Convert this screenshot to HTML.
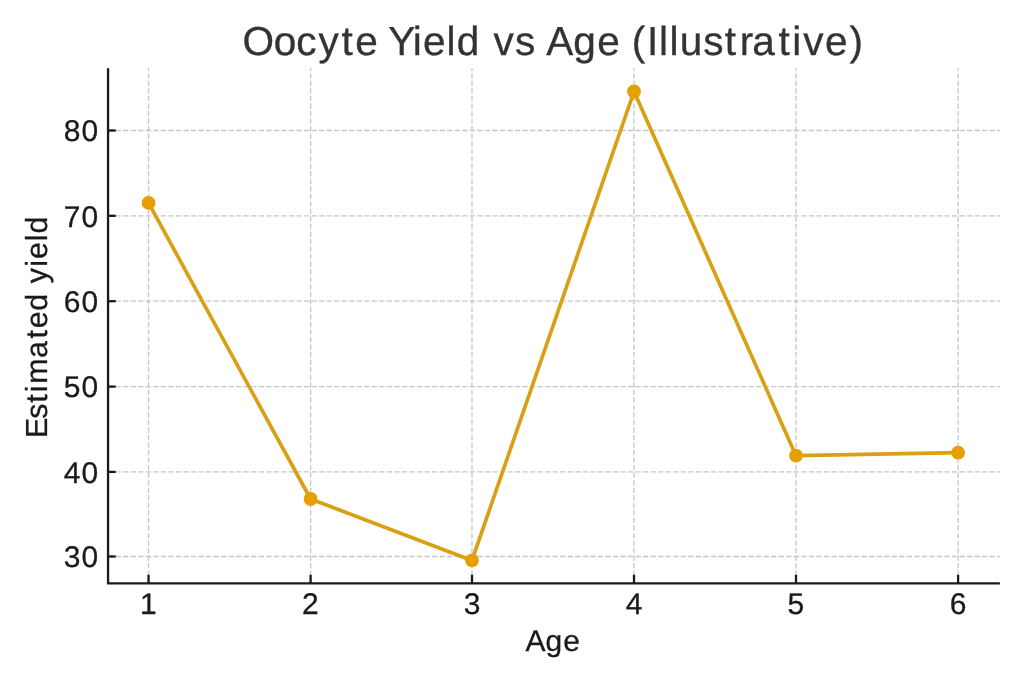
<!DOCTYPE html>
<html><head><meta charset="utf-8"><title>Oocyte Yield vs Age</title>
<style>
html,body{margin:0;padding:0;background:#fff;}
body{width:1024px;height:683px;overflow:hidden;}
svg{display:block;will-change:transform;font-family:"Liberation Sans",sans-serif;text-rendering:geometricPrecision;}
</style></head><body>
<svg width="1024" height="683" viewBox="0 0 1024 683">
<rect width="1024" height="683" fill="#fff"/>
<g stroke="#c6c6c6" stroke-width="1.3" stroke-dasharray="5.26 2.275" fill="none">
<line x1="108.05" y1="556.50" x2="999.9" y2="556.50"/>
<line x1="108.05" y1="471.90" x2="999.9" y2="471.90"/>
<line x1="108.05" y1="386.60" x2="999.9" y2="386.60"/>
<line x1="108.05" y1="301.20" x2="999.9" y2="301.20"/>
<line x1="108.05" y1="215.80" x2="999.9" y2="215.80"/>
<line x1="108.05" y1="130.50" x2="999.9" y2="130.50"/>
<line x1="148.55" y1="583.35" x2="148.55" y2="68.2"/>
<line x1="310.60" y1="583.35" x2="310.60" y2="68.2"/>
<line x1="472.00" y1="583.35" x2="472.00" y2="68.2"/>
<line x1="634.00" y1="583.35" x2="634.00" y2="68.2"/>
<line x1="796.00" y1="583.35" x2="796.00" y2="68.2"/>
<line x1="958.10" y1="583.35" x2="958.10" y2="68.2"/>
</g>
<g stroke="#1a1a1a" stroke-width="2.3" fill="none">
<line x1="108.05" y1="556.50" x2="115.75" y2="556.50"/>
<line x1="108.05" y1="471.90" x2="115.75" y2="471.90"/>
<line x1="108.05" y1="386.60" x2="115.75" y2="386.60"/>
<line x1="108.05" y1="301.20" x2="115.75" y2="301.20"/>
<line x1="108.05" y1="215.80" x2="115.75" y2="215.80"/>
<line x1="108.05" y1="130.50" x2="115.75" y2="130.50"/>
<line x1="148.55" y1="583.35" x2="148.55" y2="574.75"/>
<line x1="310.60" y1="583.35" x2="310.60" y2="574.75"/>
<line x1="472.00" y1="583.35" x2="472.00" y2="574.75"/>
<line x1="634.00" y1="583.35" x2="634.00" y2="574.75"/>
<line x1="796.00" y1="583.35" x2="796.00" y2="574.75"/>
<line x1="958.10" y1="583.35" x2="958.10" y2="574.75"/>
<path d="M108.05 68.2 V584.35 M107.05 583.35 H999.9"/>
</g>
<polyline points="148.55,202.95 310.60,499.00 472.00,560.40 634.00,91.50 796.00,455.65 958.10,452.65" fill="none" stroke="#DAA015" stroke-width="3.7" stroke-linejoin="round" stroke-linecap="round"/>
<g fill="#E69F00">
<circle cx="148.55" cy="202.95" r="6.9"/>
<circle cx="310.60" cy="499.00" r="6.9"/>
<circle cx="472.00" cy="560.40" r="6.9"/>
<circle cx="634.00" cy="91.50" r="6.9"/>
<circle cx="796.00" cy="455.65" r="6.9"/>
<circle cx="958.10" cy="452.65" r="6.9"/>
</g>
<g fill="#1a1a1a" stroke="#1a1a1a" stroke-width="0.3">
<text x="63.84 81.61" y="567.20" font-size="29.96">30</text>
<text x="63.80 81.61" y="482.60" font-size="29.96">40</text>
<text x="63.69 81.61" y="397.30" font-size="29.96">50</text>
<text x="63.80 81.61" y="311.90" font-size="29.96">60</text>
<text x="63.74 81.61" y="226.50" font-size="29.96">70</text>
<text x="63.80 81.61" y="141.20" font-size="29.96">80</text>
<text x="140.06" y="613.60" font-size="29.96">1</text>
<text x="301.89" y="613.60" font-size="29.96">2</text>
<text x="463.70" y="613.60" font-size="29.96">3</text>
<text x="625.66" y="613.60" font-size="29.96">4</text>
<text x="787.55" y="613.60" font-size="29.96">5</text>
<text x="949.76" y="613.60" font-size="29.96">6</text>
<text x="525.56 545.51 563.22" y="651.00" font-size="29.94">Age</text>
<text transform="translate(46.80,434.00) rotate(-90)" x="-4.06 15.18 31.27 41.73 50.30 75.92 95.45 105.68 123.23 140.88 150.72 167.34 175.00 192.72 200.45" y="0" font-size="30.43">Estimated yield</text>
</g>
<text x="242.62 273.65 296.35 318.45 341.53 355.16 378.04 388.14 412.69 422.91 446.55 456.86 480.40 493.54 514.91 534.67 546.15 573.20 597.21 620.08 631.75 646.89 658.89 669.42 679.85 703.25 724.70 739.63 752.36 778.41 792.36 803.20 825.03 849.57" y="54.70" font-size="40.59" fill="#333" stroke="#333" stroke-width="0.3">Oocyte Yield vs Age (Illustrative)</text>
</svg>
</body></html>
